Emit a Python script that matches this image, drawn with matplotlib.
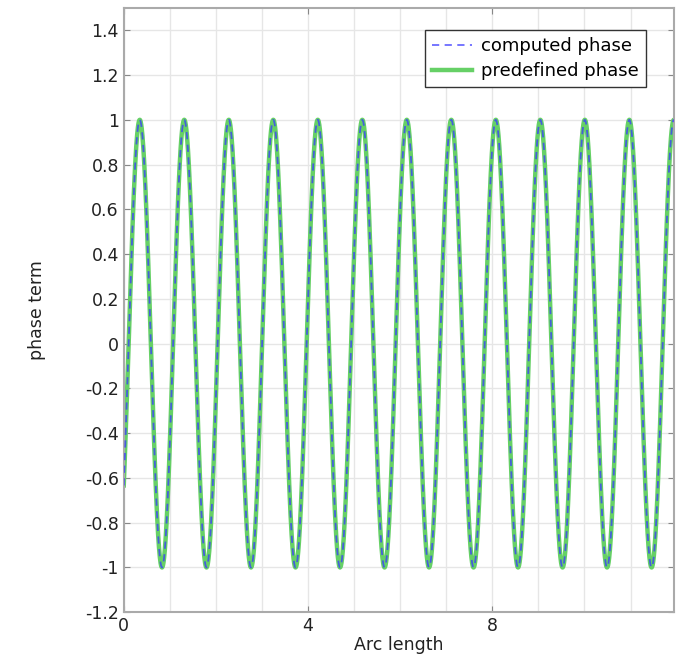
import numpy as np
import matplotlib.pyplot as plt
import matplotlib.ticker as mticker

plt.rcParams['axes.unicode_minus'] = False

# values
arc_end = 11.94          # right end of the arc length axis
period = 0.966           # distance between neighbouring peaks
first_peak = 0.347       # arc length of the first maximum
amplitude = 1.0

x_ticks = [0, 4, 8]
y_ticks = [-1.2, -1.0, -0.8, -0.6, -0.4, -0.2, 0.0, 0.2, 0.4, 0.6, 0.8, 1.0, 1.2, 1.4]
series_names = ["computed phase", "predefined phase"]

s = np.linspace(0, arc_end, 3000)
predefined = amplitude * np.cos(2 * np.pi * (s - first_peak) / period)
computed = predefined.copy()

fig = plt.figure(figsize=(6.8, 6.59), dpi=100)
ax = fig.add_axes([0.182, 0.071, 0.809, 0.917])

l_comp, = ax.plot(s, computed, color="#3a3aff", lw=1.3, ls=(0, (4, 3)), alpha=0.75,
                  zorder=3, label=series_names[0])
l_pred, = ax.plot(s, predefined, color="#66d066", lw=3.2, zorder=2,
                  label=series_names[1])

ax.set_xlim(0, arc_end)
ax.set_ylim(-1.2, 1.5)
ax.set_xticks(x_ticks)
ax.set_yticks(y_ticks)
ax.xaxis.set_minor_locator(mticker.MultipleLocator(1))
ax.yaxis.set_major_formatter(mticker.FuncFormatter(lambda v, p: "%g" % round(v, 1)))

ax.grid(True, which="both", color="#e6e6e6", lw=1.0)
ax.set_axisbelow(True)
ax.tick_params(which="both", direction="in", top=True, right=True, length=4,
               color="#888888", labelsize=12.5, labelcolor="#222222")
ax.tick_params(which="minor", length=0)
for sp in ax.spines.values():
    sp.set_color("#aaaaaa")
    sp.set_linewidth(1.5)

ax.set_xlabel("Arc length", fontsize=12.5, color="#222222", labelpad=1)
ax.set_ylabel("phase term", fontsize=12.5, color="#222222", labelpad=28)

leg = ax.legend(handles=[l_comp, l_pred], loc="upper right", fontsize=13,
                fancybox=False, framealpha=1, edgecolor="#333333",
                bbox_to_anchor=(0.966, 0.979), borderpad=0.4, handlelength=2.2,
                handletextpad=0.5, labelspacing=0.4)
leg.get_frame().set_linewidth(1.0)

fig.savefig("out.png", dpi=100)
